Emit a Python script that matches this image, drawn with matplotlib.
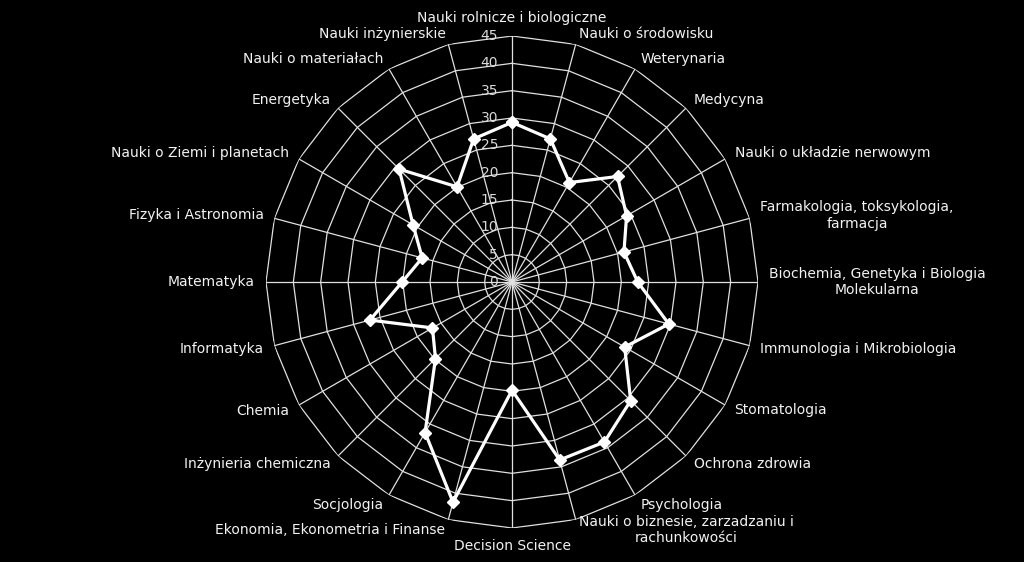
import numpy as np
import matplotlib
matplotlib.use("Agg")
import matplotlib.pyplot as plt

categories = [
    "Nauki rolnicze i biologiczne",
    "Nauki o środowisku",
    "Weterynaria",
    "Medycyna",
    "Nauki o układzie nerwowym",
    "Farmakologia, toksykologia,\nfarmacja",
    "Biochemia, Genetyka i Biologia\nMolekularna",
    "Immunologia i Mikrobiologia",
    "Stomatologia",
    "Ochrona zdrowia",
    "Psychologia",
    "Nauki o biznesie, zarzadzaniu i\nrachunkowości",
    "Decision Science",
    "Ekonomia, Ekonometria i Finanse",
    "Socjologia",
    "Inżynieria chemiczna",
    "Chemia",
    "Informatyka",
    "Matematyka",
    "Fizyka i Astronomia",
    "Nauki o Ziemi i planetach",
    "Energetyka",
    "Nauki o materiałach",
    "Nauki inżynierskie",
]
values = [29.2, 27.1, 21.0, 27.3, 24.2, 21.2, 23.0, 29.7, 23.8, 30.7, 33.8, 33.7,
          19.8, 41.7, 31.8, 19.8, 16.8, 26.9, 20.1, 17.0, 20.9, 29.2, 20.1, 27.1]
ticks = [0, 5, 10, 15, 20, 25, 30, 35, 40, 45]

plt.rcParams['font.family'] = ['DejaVu Sans']

W, H = 1024, 562
fig = plt.figure(figsize=(W / 100, H / 100), dpi=100, facecolor='black')
ax = fig.add_axes([266 / W, 34 / H, 492 / W, 492 / H], projection='polar')
ax.set_facecolor('black')
ax.set_theta_zero_location('N')
ax.set_theta_direction(-1)
ax.set_ylim(0, max(ticks))
ax.grid(False)
ax.set_xticks([])
ax.set_yticks([])
ax.spines['polar'].set_visible(False)

n = len(categories)
theta = np.arange(n) * 2 * np.pi / n
theta_c = np.append(theta, theta[0])

grid_col = '#e0e0e0'
for v in ticks[1:]:
    ax.plot(theta_c, [v] * (n + 1), color=grid_col, lw=0.9, zorder=1)
for t in theta:
    ax.plot([t, t], [0, max(ticks)], color=grid_col, lw=0.9, zorder=1)

for v in ticks:
    ax.annotate(str(v), xy=(0, v), xytext=(-14, 0), textcoords='offset pixels',
                ha='right', va='center', color='#d9d9d9', fontsize=10, zorder=0.5)

vals_c = np.append(values, values[0])
ax.plot(theta_c, vals_c, color='white', lw=2.3, marker='D', ms=6.5,
        markerfacecolor='white', markeredgecolor='white', zorder=3)

off = 11
for t, lab in zip(theta, categories):
    s, c = np.sin(t), np.cos(t)
    if abs(s) < 0.01:
        ha = 'center'
        va = 'bottom' if c > 0 else 'top'
    else:
        ha = 'left' if s > 0 else 'right'
        va = 'center'
    ax.annotate(lab, xy=(t, max(ticks)), xytext=(off * s, off * c),
                textcoords='offset pixels', ha=ha, va=va, multialignment='center',
                color='#f2f2f2', fontsize=10, annotation_clip=False)

fig.savefig('out.png', dpi=100, facecolor='black')
